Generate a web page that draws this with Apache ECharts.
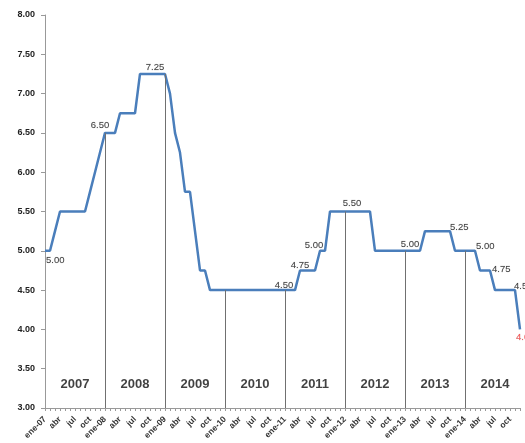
<!DOCTYPE html>
<html>
<head>
<meta charset="utf-8">
<title>Tasa de interés líder</title>
<script src="https://cdn.jsdelivr.net/npm/echarts@6/dist/echarts.min.js"></script>
<style>
  html, body { margin: 0; padding: 0; background: #fff; }
  #chart { width: 525px; height: 443px; }
</style>
</head>
<body>
<div id="chart"></div>
<script>
// eje de meses
const months = ["ene", "feb", "mar", "abr", "may", "jun", "jul", "ago", "sep", "oct", "nov", "dic"];
const yearSuffix = ["07", "08", "09", "10", "11", "12", "13", "14"];
const yearNames = ["2007", "2008", "2009", "2010", "2011", "2012", "2013", "2014"];

// tasa mensual (%), ene-07 .. dic-14
const rates = [
  5.00, 5.00, 5.25, 5.50, 5.50, 5.50, 5.50, 5.50, 5.50, 5.75, 6.00, 6.25,
  6.50, 6.50, 6.50, 6.75, 6.75, 6.75, 6.75, 7.25, 7.25, 7.25, 7.25, 7.25,
  7.25, 7.00, 6.50, 6.25, 5.75, 5.75, 5.25, 4.75, 4.75, 4.50, 4.50, 4.50,
  4.50, 4.50, 4.50, 4.50, 4.50, 4.50, 4.50, 4.50, 4.50, 4.50, 4.50, 4.50,
  4.50, 4.50, 4.50, 4.75, 4.75, 4.75, 4.75, 5.00, 5.00, 5.50, 5.50, 5.50,
  5.50, 5.50, 5.50, 5.50, 5.50, 5.50, 5.00, 5.00, 5.00, 5.00, 5.00, 5.00,
  5.00, 5.00, 5.00, 5.00, 5.25, 5.25, 5.25, 5.25, 5.25, 5.25, 5.00, 5.00,
  5.00, 5.00, 5.00, 4.75, 4.75, 4.75, 4.50, 4.50, 4.50, 4.50, 4.50, 4.00
];

// meses con etiqueta de valor
const labeled = [0, 12, 22, 48, 51, 55, 61, 73, 81, 86, 89, 94, 95];

const cats = [];
yearSuffix.forEach(y => months.forEach(m => cats.push(m + "-" + y)));

// estilo de cada etiqueta
const labelStyle = {
  0: { position: "bottom", align: "left", distance: 5, offset: [1, 0] },
  12: { position: "top", distance: 3, offset: [-5, 0] },
  22: { position: "top", distance: 2 },
  48: { position: "top", distance: 0, offset: [-1, 0] },
  51: { position: "top", distance: 0 },
  55: { position: "top", distance: 0, offset: [-6, 0] },
  61: { position: "top", distance: 3, offset: [2, 0] },
  73: { position: "top", distance: 1 },
  81: { position: "right", distance: 0, offset: [0, -4] },
  86: { position: "right", distance: 1, offset: [0, -4] },
  89: { position: "right", distance: 2, offset: [0, -1] },
  94: { position: "right", distance: -1, offset: [0, -4] },
  95: { position: "bottom", align: "left", distance: 3, offset: [-4, 0], color: "#ff2a2a" }
};

const labelFont = {
  show: true,
  fontFamily: "'Liberation Sans Narrow', Arial, 'Liberation Sans', sans-serif",
  fontSize: 9.5,
  color: "#111",
  textBorderColor: "rgba(0,0,0,0.25)",
  textBorderWidth: 0.4,
  formatter: p => p.value[1].toFixed(2)
};

const labelData = labeled.map(i => ({
  value: [cats[i], rates[i]],
  label: Object.assign({}, labelFont, labelStyle[i])
}));

// líneas verticales en cada enero
const janLines = [];
for (let i = 12; i < rates.length; i += 12) {
  janLines.push([{ coord: [cats[i], 3] }, { coord: [cats[i], rates[i]] }]);
}

const yearData = yearNames.map((y, k) => ({ value: [cats[k * 12 + 6], 3.3], name: y }));

const chart = echarts.init(document.getElementById("chart"));
chart.setOption({
  animation: false,
  grid: { left: 45, right: 5, top: 15, bottom: 35 },
  xAxis: {
    type: "category",
    data: cats,
    boundaryGap: false,
    axisLine: { lineStyle: { color: "#999" } },
    axisTick: { interval: 0, length: 3, lineStyle: { color: "#999" } },
    axisLabel: {
      interval: 2,
      rotate: 45,
      fontSize: 8.5,
      fontWeight: "bold",
      color: "#333",
      margin: 10,
      fontFamily: "Arial, 'Liberation Sans', sans-serif",
      formatter: v => (v.indexOf("ene") === 0 ? v : v.slice(0, 3))
    }
  },
  yAxis: {
    type: "value",
    min: 3,
    max: 8,
    interval: 0.5,
    splitLine: { show: false },
    axisLine: { show: true, lineStyle: { color: "#999" } },
    axisTick: { show: true, length: 4, lineStyle: { color: "#999" } },
    axisLabel: {
      fontSize: 9,
      fontWeight: "bold",
      color: "#222",
      margin: 10,
      fontFamily: "Arial, 'Liberation Sans', sans-serif",
      formatter: v => v.toFixed(2)
    }
  },
  series: [
    {
      name: "Tasa",
      type: "line",
      data: rates,
      symbol: "none",
      lineStyle: { color: "#4a7ebb", width: 2.5 },
      markLine: {
        silent: true,
        symbol: ["none", "none"],
        label: { show: false },
        lineStyle: { color: "#707070", width: 1, type: "solid" },
        data: janLines
      },
      z: 3
    },
    {
      name: "etiquetas",
      type: "scatter",
      symbolSize: 0,
      data: labelData,
      z: 4
    },
    {
      name: "años",
      type: "scatter",
      symbolSize: 0,
      data: yearData,
      label: {
        show: true,
        position: "inside",
        formatter: p => p.name,
        fontSize: 13,
        fontWeight: "bold",
        color: "#111",
        fontFamily: "Arial, 'Liberation Sans', sans-serif"
      }
    }
  ]
});
</script>
</body>
</html>
